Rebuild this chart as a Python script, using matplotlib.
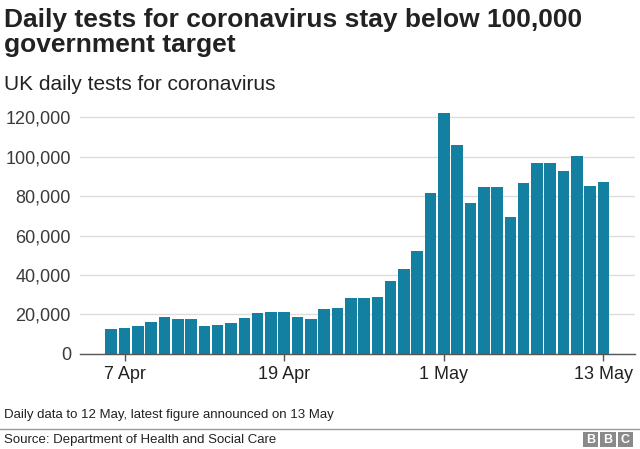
import numpy as np
import matplotlib.pyplot as plt
import matplotlib.patches as patches
from matplotlib.ticker import FuncFormatter

plt.rcParams['font.family'] = ['Liberation Sans', 'DejaVu Sans']

# daily tests, 6 Apr .. 13 May
dates = ["6 Apr", "7 Apr", "8 Apr", "9 Apr", "10 Apr", "11 Apr", "12 Apr", "13 Apr",
         "14 Apr", "15 Apr", "16 Apr", "17 Apr", "18 Apr", "19 Apr", "20 Apr", "21 Apr",
         "22 Apr", "23 Apr", "24 Apr", "25 Apr", "26 Apr", "27 Apr", "28 Apr", "29 Apr",
         "30 Apr", "1 May", "2 May", "3 May", "4 May", "5 May", "6 May", "7 May",
         "8 May", "9 May", "10 May", "11 May", "12 May", "13 May"]
tests = [12400, 13200, 13900, 16100, 18700, 17600, 17600, 14100,
         14600, 15600, 18100, 20900, 21000, 21200, 18800, 17600,
         22500, 23200, 28100, 28500, 28600, 36800, 43200, 52200,
         81600, 122300, 105900, 76500, 84800, 84800, 69500, 86600,
         97000, 96900, 92800, 100500, 85300, 87100]
tick_labels = ["7 Apr", "19 Apr", "1 May", "13 May"]
y_ticks = [0, 20000, 40000, 60000, 80000, 100000, 120000]

BAR_COLOR = "#1380A1"

fig = plt.figure(figsize=(6.4, 4.49), dpi=100)
ax = fig.add_axes([0.125, 0.2122, 0.867, 0.5484])

x = np.arange(len(dates))
ax.bar(x, tests, width=0.87, color=BAR_COLOR, zorder=3)

ax.set_xlim(-2.35, 39.36)
ax.set_ylim(0, 125000)
ax.set_yticks(y_ticks)
ax.yaxis.set_major_formatter(FuncFormatter(lambda v, p: f"{int(v):,}"))
ax.grid(axis='y', color='#dcdcdc', linewidth=1, zorder=0)

ax.set_xticks([dates.index(t) for t in tick_labels])
ax.set_xticklabels(tick_labels)

for s in ['top', 'right', 'left']:
    ax.spines[s].set_visible(False)
ax.spines['bottom'].set_color('#555555')
ax.spines['bottom'].set_linewidth(1)
ax.spines['bottom'].set_zorder(4)

ax.tick_params(axis='y', length=0, pad=6.5, labelsize=13, labelcolor='#3a3a3a')
ax.tick_params(axis='x', length=5, width=1, color='#555555', pad=4,
               labelsize=13, labelcolor='#222222')

# titles
fig.text(0.006, 0.94, "Daily tests for coronavirus stay below 100,000",
         fontsize=19, fontweight='bold', color='#222222', va='baseline')
fig.text(0.006, 0.884, "government target",
         fontsize=19, fontweight='bold', color='#222222', va='baseline')
fig.text(0.006, 0.80, "UK daily tests for coronavirus",
         fontsize=15, color='#222222', va='baseline')

# footer
fig.text(0.006, 0.075, "Daily data to 12 May, latest figure announced on 13 May",
         fontsize=9.5, color='#222222', va='center')
fig.add_artist(plt.Line2D([0, 1], [0.044, 0.044], transform=fig.transFigure,
                          color='#999999', linewidth=1))
fig.text(0.006, 0.019, "Source: Department of Health and Social Care",
         fontsize=9.5, color='#222222', va='center')

# BBC blocks
bw, bh, gap = 0.024, 0.033, 0.003
x0 = 0.911
for i, letter in enumerate("BBC"):
    bx = x0 + i * (bw + gap)
    fig.add_artist(patches.Rectangle((bx, 0.004), bw, bh, transform=fig.transFigure,
                                     facecolor='#8a8a8a', edgecolor='none'))
    fig.text(bx + bw / 2, 0.004 + bh / 2, letter, fontsize=9, fontweight='bold',
             color='white', ha='center', va='center')

fig.savefig("out.png", dpi=100, facecolor='white')
